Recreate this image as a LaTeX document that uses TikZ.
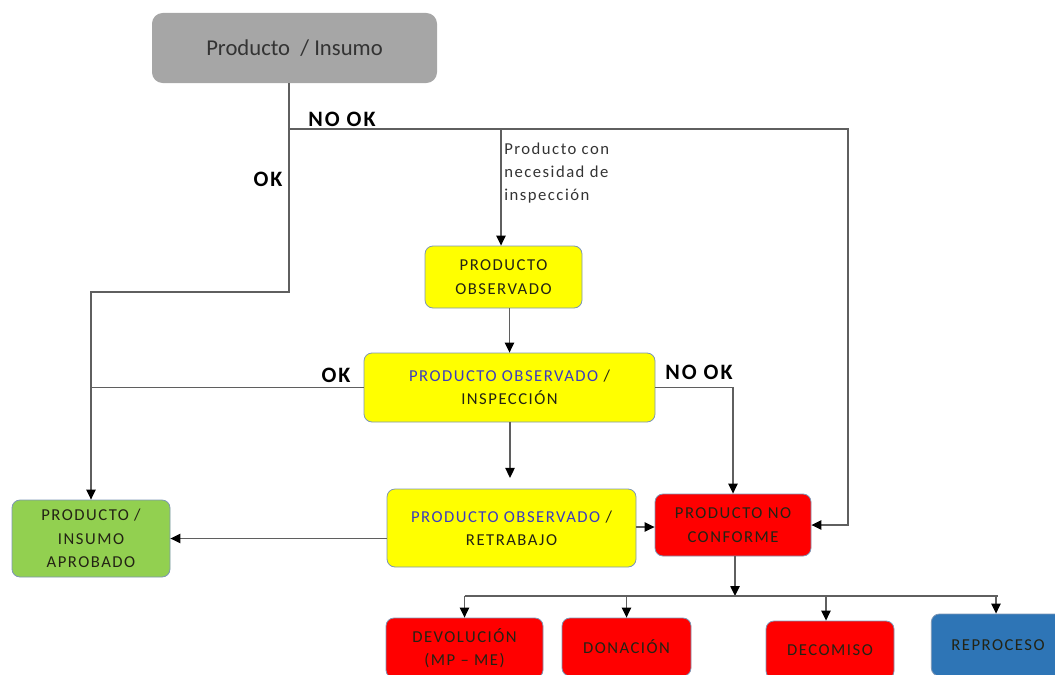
\documentclass[tikz,border=0pt]{standalone}
\usepackage{fontspec}
\setmainfont{Carlito}
\newfontfamily\spfont[LetterSpace=9]{Carlito}
\usetikzlibrary{arrows.meta,calc}
\definecolor{lnc}{RGB}{95,95,95}
\definecolor{bdc}{RGB}{125,150,180}
\definecolor{gbox}{RGB}{166,166,166}
\definecolor{ybox}{RGB}{255,255,0}
\definecolor{grbox}{RGB}{146,208,80}
\definecolor{rbox}{RGB}{255,0,0}
\definecolor{bbox}{RGB}{46,117,182}
\definecolor{bltxt}{RGB}{60,60,190}
\definecolor{dtxt}{RGB}{35,35,20}
\tikzset{
  x=0.75pt, y=-0.75pt,
  box/.style={rectangle, rounded corners=6pt, draw=bdc, line width=0.6pt, align=center,
    inner sep=0pt, text=dtxt, font=\spfont\fontsize{12.5}{17.5}\selectfont},
  conn/.style={draw=lnc, line width=1.1pt},
  arr/.style={conn, -{Triangle[length=7.5pt,width=7pt,color=black,fill=black]}},
  lbl/.style={font=\spfont\fontsize{16.5}{18}\selectfont\bfseries, text=black, inner sep=0pt},
}
\begin{document}
\begin{tikzpicture}
\useasboundingbox (0,0) rectangle (1055,674);
\clip (0,0) rectangle (1055,674);
% nodes
\node[box, draw=none, fill=gbox, rounded corners=8pt, minimum width=213.75pt, minimum height=52.5pt,
  font=\fontsize{17}{20}\selectfont, text=black!80] (top) at (294.5,48) {Producto~ / Insumo};
\node[box, fill=ybox, minimum width=117.75pt, minimum height=46.5pt] (po) at (503.5,277) {PRODUCTO\\OBSERVADO};
\node[box, fill=ybox, minimum width=218.25pt, minimum height=51.75pt] (poi) at (509.5,387.5)
  {\textcolor{bltxt}{PRODUCTO OBSERVADO} /\\INSPECCIÓN};
\node[box, fill=ybox, minimum width=186.75pt, minimum height=58.5pt] (por) at (511.5,528)
  {\textcolor{bltxt}{PRODUCTO OBSERVADO} /\\RETRABAJO};
\node[box, fill=grbox, minimum width=118.5pt, minimum height=57.75pt] (ok) at (91,538.5)
  {PRODUCTO /\\INSUMO\\APROBADO};
\node[box, fill=rbox, minimum width=117pt, minimum height=46.5pt] (pnc) at (733,525)
  {PRODUCTO NO\\CONFORME};
\node[box, fill=rbox, minimum width=117.75pt, minimum height=45pt] (dev) at (464.5,648)
  {DEVOLUCIÓN\\(MP – ME)};
\node[box, fill=rbox, minimum width=96.75pt, minimum height=43.5pt] (don) at (626.5,647) {DONACIÓN};
\node[box, fill=rbox, minimum width=96pt, minimum height=43.5pt] (dec) at (830,650) {DECOMISO};
\node[box, fill=bbox, minimum width=100pt, minimum height=46.5pt] (rep) at (998,645) {REPROCESO};
% labels
\node[lbl] (l1) at (342,119) {NO OK};
\node[lbl] (l2) at (268,179) {OK};
\node[lbl] (l3) at (336,375) {OK};
\node[lbl] (l4) at (699,372) {NO OK};
\node[anchor=west, align=left, inner sep=0pt, font=\spfont\fontsize{12.5}{17.25}\selectfont, text=black!80]
  (l5) at (504,173) {Producto con\\necesidad de\\inspección};
% coordinates
\coordinate (a) at (289,292);
\coordinate (b) at (91,292);
\coordinate (c) at (289,129);
\coordinate (d) at (848,129);
\coordinate (e) at (501,129);
\coordinate (f) at (735,596);
% connectors
\draw[arr] (top.south -| a) -- (a) -| (ok.north);
\draw[arr] (c) -- (d) |- (pnc.east);
\draw[arr] (e) -- (e |- po.north);
\draw[arr] (po.south -| poi.north) -- (poi.north);
\draw[conn] (poi.west) -- (poi.west -| b);
\draw[arr] (poi.east) -| (pnc.north);
\draw[arr, shorten >=8pt] (poi.south -| 510,0) -- (por.north -| 510,0);
\draw[arr] (por.east |- pnc.west) ++(0,2) -- ($(pnc.west)+(0,2)$);
\draw[arr] (por.west |- ok.east) -- (ok.east);
\draw[arr] (pnc.south -| f) -- (f);
\draw[conn] (f -| dev.north) -- (f -| rep.north);
\draw[arr] (f -| dev.north) -- (dev.north);
\draw[arr] (f -| don.north) -- (don.north);
\draw[arr] (f -| 826,0) -- (dec.north -| 826,0);
\draw[arr] (f -| 996,0) -- (rep.north -| 996,0);
\end{tikzpicture}
\end{document}
